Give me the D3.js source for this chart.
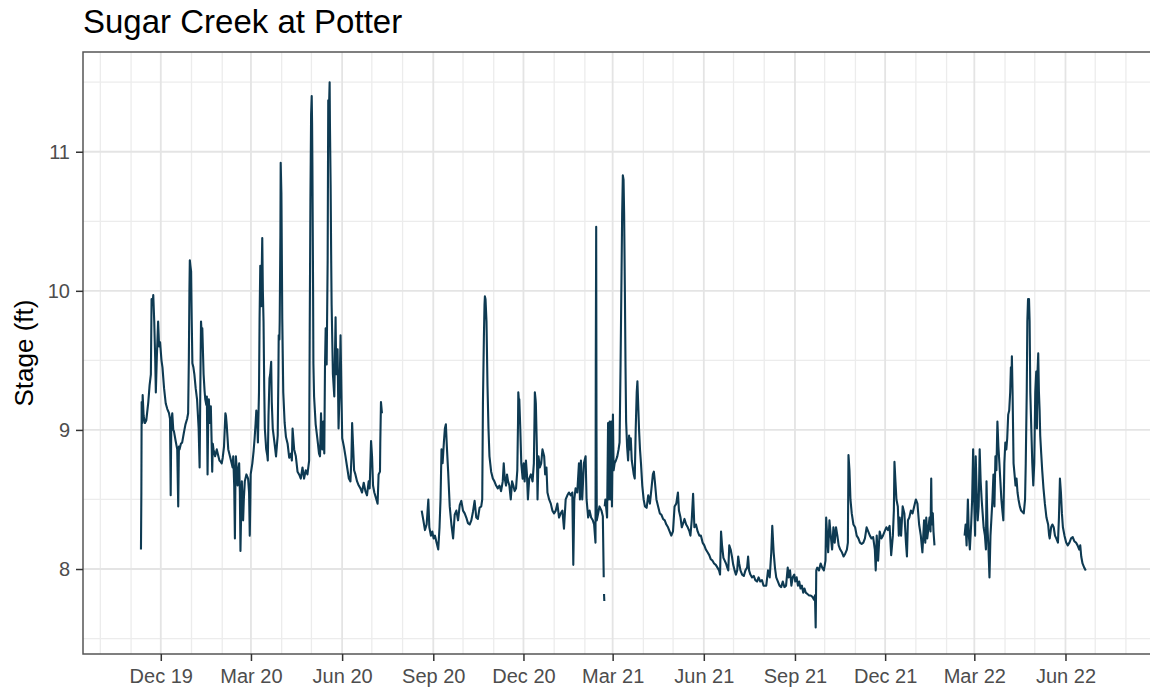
<!DOCTYPE html>
<html>
<head>
<meta charset="utf-8">
<script src="https://cdn.jsdelivr.net/npm/d3@7"></script>
<style>
  html, body { margin: 0; padding: 0; background: #fff; }
  svg { display: block; font-family: "Liberation Sans", Arial, sans-serif; }
</style>
</head>
<body>
<svg id="chart" width="1150" height="693"></svg>
<script>
// ---------------- DATA ----------------
// Time is stored as days since 2019-12-01 (fractional), stage in feet.
const title = "Sugar Creek at Potter";
const yTitle = "Stage (ft)";

const xTickDates  = ["2019-12-01","2020-03-01","2020-06-01","2020-09-01","2020-12-01","2021-03-01",
                     "2021-06-01","2021-09-01","2021-12-01","2022-03-01","2022-06-01"];
const xTickLabels = ["Dec 19","Mar 20","Jun 20","Sep 20","Dec 20","Mar 21",
                     "Jun 21","Sep 21","Dec 21","Mar 22","Jun 22"];
const yTicks = [8, 9, 10, 11];
const yMinor = [7.5, 8.5, 9.5, 10.5, 11.5];

// Segment 1: Nov 2019 - Jul 2020
const seg1Day = [-20.0,-19.6,-19.3,-18.6,-18.3,-17.3,-16.0,-14.6,-12.6,-11.3,-10.0,-9.3,-8.3,-7.6,-6.6,-5.6,-5.0,-4.0,-2.7,-1.7,-0.7,
  0.7,1.7,3.3,5.0,6.6,8.3,9.3,10.0,10.6,11.6,12.6,13.3,15.0,16.6,17.6,18.3,18.9,20.3,21.6,23.3,24.9,26.6,27.6,28.3,28.9,29.3,29.9,30.6,
  31.2,31.9,32.9,33.9,35.2,36.6,38.2,39.2,39.9,40.6,41.2,41.9,43.2,44.2,44.9,45.9,46.5,47.2,47.9,48.5,49.5,50.5,51.2,51.9,52.5,53.2,
  54.8,56.5,57.8,59.2,60.5,61.5,62.5,63.8,64.5,65.2,65.8,66.5,68.1,69.8,71.5,72.5,73.1,74.1,74.8,75.4,75.8,76.8,77.5,78.1,79.1,79.8,
  80.4,81.1,81.8,82.4,83.1,83.8,84.8,86.4,88.1,89.1,89.8,90.4,90.7,92.4,93.7,94.7,95.7,96.4,97.4,98.0,99.1,99.7,100.4,101.1,101.4,
  102.0,102.4,103.0,103.7,104.4,105.0,106.4,107.4,108.0,108.7,109.7,110.4,111.4,112.0,113.0,114.7,116.3,117.3,118.0,118.7,119.0,
  119.7,120.0,120.7,121.0,121.7,122.0,122.6,123.6,125.0,126.3,128.0,129.6,131.3,132.3,
  133.0,134.6,136.3,138.0,139.6,141.3,143.0,144.6,146.3,148.0,149.7,150.3,151.0,151.7,152.3,152.7,153.0,153.7,154.0,154.7,156.3,
  158.0,159.7,160.7,161.7,162.4,163.0,164.0,165.0,165.7,166.4,167.4,168.4,169.0,169.7,170.4,170.7,171.4,172.0,172.4,173.7,175.1,
  175.7,176.4,177.1,177.7,178.4,179.4,180.1,180.4,181.1,181.4,182.4,183.1,184.8,186.4,188.1,189.8,191.4,192.4,193.1,194.1,195.1,
  196.4,198.1,199.8,201.5,203.1,204.8,206.5,208.1,209.8,210.8,211.5,212.2,213.2,214.2,215.5,217.2,218.8,219.8,221.2,221.5,222.2,223.2];
const seg1Stage = [8.14,8.55,9.20,9.05,9.25,9.10,9.05,9.07,9.20,9.32,9.40,9.94,9.90,9.97,9.78,9.50,9.27,9.52,9.78,9.60,9.63,
  9.50,9.45,9.30,9.19,9.15,9.12,9.08,8.53,9.05,9.12,9.00,8.99,8.92,8.86,8.45,8.88,8.86,8.90,8.91,8.98,9.04,9.08,9.12,9.50,10.00,10.22,10.18,10.14,
  9.80,9.48,9.45,9.40,9.30,9.22,9.01,8.73,9.30,9.78,9.70,9.73,9.40,9.28,9.22,9.18,9.24,8.68,9.10,9.22,9.05,9.17,8.95,8.70,8.90,8.86,
  8.81,8.86,8.82,8.78,8.77,8.76,8.80,8.88,9.00,9.12,9.10,9.04,8.86,8.81,8.76,8.73,8.81,8.60,8.22,8.70,8.81,8.70,8.60,8.70,8.76,8.55,
  8.13,8.40,8.63,8.50,8.35,8.50,8.63,8.68,8.65,8.55,8.24,8.50,8.68,8.76,8.85,8.94,9.05,9.14,9.05,8.91,9.27,9.80,10.18,10.00,9.89,
  10.20,10.38,10.00,9.78,9.30,9.01,8.86,8.82,8.78,9.10,9.37,9.40,9.49,9.20,9.01,8.91,8.81,8.90,8.96,9.40,9.68,
  9.65,9.78,10.40,10.92,10.70,10.42,9.80,9.27,9.05,8.95,8.90,8.80,8.83,8.78,
  9.01,8.86,8.81,8.70,8.68,8.65,8.73,8.65,8.71,8.68,8.78,9.71,10.65,11.27,11.40,11.20,10.91,10.00,9.48,9.24,9.04,
  8.94,8.83,8.81,9.12,8.95,8.86,9.06,8.83,9.45,9.73,9.47,10.22,11.37,11.30,11.50,11.20,10.76,10.20,9.90,9.40,9.24,
  9.50,9.81,9.40,9.55,9.58,9.01,9.20,9.27,9.55,9.68,9.22,8.94,8.88,8.81,8.73,8.65,8.63,8.80,9.05,8.88,8.71,
  8.68,8.63,8.60,8.58,8.55,8.62,8.56,8.53,8.63,8.58,8.75,8.92,8.81,8.60,8.55,8.51,8.47,8.68,8.70,8.90,9.20,9.12];

// Segment 2: Aug 2020 - Feb 2021
const seg2Day = [263.3,265.0,266.6,268.3,270.0,271.0,272.6,274.0,275.3,276.7,278.3,280.0,281.3,282.3,283.3,284.4,285.7,286.7,287.7,288.7,290.0,
  291.6,293.3,295.0,296.6,298.3,300.0,301.7,303.3,305.0,306.7,308.3,310.0,311.7,313.4,315.0,316.7,318.4,320.0,321.7,323.4,324.4,
  325.1,326.1,326.7,327.1,327.7,328.7,329.7,330.7,331.7,333.4,335.1,336.7,338.4,340.1,341.8,343.4,345.1,346.1,347.1,348.4,349.4,
  350.5,351.8,353.2,354.5,355.8,357.1,358.5,359.8,360.5,360.8,361.5,361.8,362.8,363.8,365.2,366.2,367.2,368.5,369.5,370.5,371.8,
  373.5,375.2,376.5,377.2,377.5,378.2,378.5,379.5,380.2,381.2,382.5,383.9,385.2,386.9,387.9,389.2,390.2,391.9,393.6,395.2,396.9,
  398.6,400.2,401.9,403.6,405.3,406.9,408.6,410.3,411.9,413.6,415.3,416.3,417.3,418.6,420.3,422.0,423.0,424.0,425.3,427.0,428.7,
  429.7,431.3,432.7,434.3,436.0,437.3,438.7,439.0,439.4,439.7,440.0,441.4,442.7,444.7,446.1,447.0];
const seg2Stage = [8.42,8.35,8.28,8.32,8.50,8.30,8.24,8.27,8.22,8.24,8.19,8.14,8.30,8.50,8.86,8.76,8.91,9.01,9.04,8.88,8.70,
  8.45,8.32,8.22,8.39,8.42,8.35,8.46,8.49,8.42,8.40,8.37,8.33,8.32,8.35,8.41,8.49,8.37,8.36,8.44,8.45,8.50,
  9.19,9.68,9.90,9.96,9.94,9.78,9.32,9.01,8.81,8.70,8.65,8.63,8.60,8.58,8.60,8.56,8.63,8.76,8.65,8.60,8.68,
  8.63,8.60,8.50,8.63,8.60,8.56,8.58,8.71,9.05,9.27,9.20,9.22,9.01,8.76,8.65,8.76,8.63,8.78,8.68,8.50,8.65,
  8.68,8.63,8.76,9.10,9.27,9.22,9.19,8.88,8.50,8.81,8.73,8.76,8.86,8.81,8.68,8.73,8.55,8.50,8.47,8.42,8.40,
  8.42,8.47,8.37,8.40,8.42,8.29,8.50,8.53,8.55,8.53,8.55,8.03,8.50,8.58,8.55,8.76,8.50,8.78,8.50,8.76,8.81,
  8.50,8.37,8.42,8.37,8.35,8.32,8.19,9.50,10.46,9.00,8.35,8.40,8.45,8.42,8.38,7.94];

// Segment 3: short isolated piece, late Feb 2021
const seg3Day = [447.3, 447.6];
const seg3Stage = [7.82, 7.77];

// Segment 4: Feb 2021 - Jan 2022
const seg4Day = [448.0,448.7,450.4,451.4,452.0,453.0,453.7,454.7,455.3,456.3,457.0,458.0,459.3,460.7,462.0,463.0,464.0,465.0,465.6,466.3,
  467.0,467.6,468.3,469.0,469.6,470.6,471.6,472.6,473.6,474.3,475.3,476.3,477.3,478.3,479.3,480.3,481.0,482.0,482.6,483.6,484.6,
  485.9,487.3,488.6,490.3,491.9,493.6,495.2,496.6,497.6,498.6,500.2,501.9,503.6,505.2,506.9,508.6,510.2,511.9,513.5,515.2,516.9,
  518.5,520.2,521.9,522.9,524.5,525.8,526.8,528.5,530.2,531.8,533.5,534.5,535.8,537.2,538.5,540.1,541.8,543.5,545.1,546.8,548.5,
  550.1,551.8,553.5,555.1,556.8,558.4,560.1,561.8,563.4,564.4,565.4,566.4,567.8,569.1,570.4,571.7,572.7,573.7,575.1,576.4,577.7,
  579.1,580.4,581.7,582.7,583.7,585.0,586.7,588.4,590.0,591.7,592.7,593.7,595.0,596.7,598.4,600.0,601.7,603.3,605.0,606.7,608.3,
  610.0,611.0,612.8,614.5,616.1,617.1,618.5,619.8,621.1,622.8,624.4,626.1,627.7,629.4,631.0,632.7,633.7,635.0,636.4,637.7,639.3,
  640.3,641.7,643.0,644.3,645.6,647.0,648.3,649.6,650.9,652.6,654.3,655.9,657.6,659.2,660.2,660.9,661.5,662.5,664.2,665.9,667.5,
  669.2,670.8,671.5,672.5,673.5,674.8,676.1,677.5,678.8,680.1,681.4,682.8,684.1,685.7,687.4,689.1,690.7,692.4,693.4,694.0,695.0,
  696.0,697.3,699.0,700.7,702.3,704.0,705.6,707.3,709.0,710.6,712.3,713.9,715.6,717.2,718.9,720.6,721.5,722.5,723.9,725.5,727.2,
  728.8,730.5,732.2,733.8,735.5,737.1,738.8,739.8,740.4,741.4,742.4,743.8,744.8,745.7,747.1,748.7,750.4,752.0,753.0,754.0,755.4,
  757.0,758.7,760.3,762.0,763.6,765.3,767.0,768.6,770.3,771.5,772.5,773.5,774.8,775.8,776.8,777.5,778.1,779.1,779.8,780.8];
const seg4Stage = [8.45,8.50,8.37,9.05,8.50,9.06,8.50,9.06,8.45,9.11,8.71,8.76,8.78,8.81,8.86,8.91,9.47,10.14,10.55,10.83,
  10.80,10.55,10.04,9.45,9.06,8.88,8.78,8.96,8.86,8.94,8.78,8.73,8.68,8.65,9.01,9.27,9.35,9.14,9.01,8.86,8.76,
  8.60,8.50,8.45,8.44,8.53,8.47,8.58,8.68,8.70,8.63,8.50,8.45,8.40,8.39,8.36,8.35,8.32,8.30,8.27,8.24,8.27,
  8.45,8.47,8.55,8.42,8.37,8.30,8.32,8.36,8.32,8.30,8.27,8.24,8.35,8.54,8.30,8.32,8.27,8.24,8.24,8.19,8.17,
  8.14,8.12,8.10,8.07,8.06,8.04,8.03,8.01,7.99,7.96,8.27,8.17,8.08,8.06,8.04,8.01,7.99,8.17,8.14,8.09,8.03,
  7.99,7.96,7.99,8.09,8.04,7.99,7.96,7.95,7.99,8.01,8.09,7.99,7.96,7.94,7.95,7.92,7.91,7.94,7.91,7.92,7.88,
  7.88,7.88,7.99,7.94,8.12,8.31,8.12,8.01,7.94,7.91,7.88,7.87,7.91,7.87,7.88,8.01,7.94,7.99,7.88,7.94,7.96,
  7.91,7.94,7.88,7.91,7.86,7.88,7.83,7.86,7.83,7.82,7.81,7.81,7.80,7.78,7.81,7.58,7.99,8.01,7.99,8.04,8.01,
  7.99,8.06,8.37,8.24,8.12,8.35,8.24,8.14,8.30,8.19,8.30,8.24,8.17,8.14,8.12,8.09,8.11,8.14,8.19,8.82,8.71,
  8.50,8.40,8.32,8.30,8.24,8.22,8.19,8.18,8.19,8.22,8.30,8.27,8.24,8.22,8.23,8.14,7.99,8.24,8.06,8.27,8.22,
  8.24,8.27,8.30,8.28,8.31,8.10,8.24,8.42,8.77,8.63,8.50,8.45,8.24,8.37,8.24,8.45,8.40,8.19,8.09,8.35,8.37,
  8.42,8.40,8.45,8.50,8.47,8.32,8.24,8.12,8.35,8.19,8.37,8.22,8.30,8.37,8.27,8.65,8.32,8.40,8.27,8.17];

// Segment 5: Feb 2022 - Jun 2022
const seg5Day = [811.2,812.2,813.2,814.5,815.5,816.5,817.8,818.8,819.8,820.8,821.8,822.4,823.4,824.4,825.4,826.4,827.4,828.4,829.4,830.4,
  831.7,832.7,833.3,834.3,835.3,836.3,837.3,838.3,839.3,840.3,841.3,842.3,843.3,844.3,845.3,846.3,847.3,848.3,849.3,850.3,851.3,
  852.3,853.3,854.2,855.2,856.2,857.2,857.9,858.6,858.9,859.6,860.6,861.6,862.6,863.6,864.6,865.6,866.9,868.2,869.6,870.9,872.2,
  872.9,873.9,874.5,875.2,876.2,876.8,877.5,878.5,879.5,880.5,881.5,882.5,883.5,884.2,884.8,885.5,886.2,886.9,887.5,888.5,889.5,
  890.8,892.2,893.8,895.5,896.5,897.1,898.5,899.8,901.1,902.4,903.7,905.4,906.4,907.4,908.4,909.4,910.4,912.0,913.7,915.3,917.0,
  918.6,920.3,921.9,923.6,925.2,926.9,927.9,928.9,930.2,931.9,933.5];
const seg5Stage = [8.24,8.32,8.17,8.50,8.24,8.14,8.32,8.50,8.86,8.50,8.24,8.81,8.55,8.35,8.45,8.86,8.63,8.50,8.40,8.30,
  8.24,8.14,8.63,8.30,8.14,7.94,8.24,8.37,8.50,8.68,8.45,8.81,8.71,9.06,8.88,8.76,8.63,8.50,8.42,8.35,8.76,
  8.91,8.86,8.94,9.11,9.14,9.27,9.45,9.40,9.53,9.27,8.76,8.68,8.60,8.65,8.55,8.50,8.45,8.42,8.41,8.40,8.50,
  8.76,9.27,9.78,9.94,9.94,9.78,9.27,9.01,8.76,8.60,8.76,9.27,9.42,9.01,9.42,9.55,9.27,9.14,8.96,8.83,8.71,
  8.58,8.47,8.37,8.32,8.24,8.22,8.30,8.32,8.30,8.24,8.22,8.19,8.37,8.65,8.55,8.40,8.30,8.24,8.19,8.17,8.19,
  8.22,8.23,8.20,8.19,8.17,8.14,8.17,8.09,8.04,8.01,7.99];

// ---------------- CHART ----------------
const BASE = Date.UTC(2019, 11, 1);
const toDate = d => new Date(BASE + d * 864e5);
const parse = d3.utcParse("%Y-%m-%d");

const W = 1150, H = 693;
const panel = { left: 83, right: 1151, top: 52, bottom: 654 };

const x = d3.scaleUtc()
  .domain([toDate(-78.5), toDate(999.3)])
  .range([panel.left, panel.right]);
const y = d3.scaleLinear()
  .domain([7.389, 11.717])
  .range([panel.bottom, panel.top]);

const svg = d3.select("#chart");
svg.append("rect").attr("width", W).attr("height", H).attr("fill", "#fff");

svg.append("defs").append("clipPath").attr("id", "clip")
  .append("rect").attr("x", panel.left).attr("y", panel.top)
  .attr("width", panel.right - panel.left).attr("height", panel.bottom - panel.top);

const grid = svg.append("g").attr("clip-path", "url(#clip)");

// minor vertical grid (monthly)
const months = d3.utcMonth.range(x.domain()[0], x.domain()[1]);
const majorDates = xTickDates.map(parse);
const majorSet = new Set(majorDates.map(d => +d));
grid.selectAll("line.vminor").data(months.filter(d => !majorSet.has(+d))).join("line")
  .attr("x1", d => x(d)).attr("x2", d => x(d))
  .attr("y1", panel.top).attr("y2", panel.bottom)
  .attr("stroke", "#ececec").attr("stroke-width", 1.3);
grid.selectAll("line.hminor").data(yMinor).join("line")
  .attr("x1", panel.left).attr("x2", panel.right)
  .attr("y1", d => y(d)).attr("y2", d => y(d))
  .attr("stroke", "#ececec").attr("stroke-width", 1.3);
// major grid
grid.selectAll("line.vmajor").data(majorDates).join("line")
  .attr("x1", d => x(d)).attr("x2", d => x(d))
  .attr("y1", panel.top).attr("y2", panel.bottom)
  .attr("stroke", "#e4e4e4").attr("stroke-width", 1.8);
grid.selectAll("line.hmajor").data(yTicks).join("line")
  .attr("x1", panel.left).attr("x2", panel.right)
  .attr("y1", d => y(d)).attr("y2", d => y(d))
  .attr("stroke", "#e4e4e4").attr("stroke-width", 1.8);

// data line
const segments = [
  [seg1Day, seg1Stage], [seg2Day, seg2Stage], [seg3Day, seg3Stage],
  [seg4Day, seg4Stage], [seg5Day, seg5Stage]
].map(([ds, vs]) => ds.map((d, i) => ({ t: toDate(d), v: vs[i] })));

const line = d3.line().x(d => x(d.t)).y(d => y(d.v));
svg.append("g").attr("clip-path", "url(#clip)")
  .selectAll("path").data(segments).join("path")
  .attr("d", line)
  .attr("fill", "none")
  .attr("stroke", "#0e3a52")
  .attr("stroke-width", 2.1)
  .attr("stroke-linejoin", "round");

// panel border
svg.append("rect")
  .attr("x", panel.left).attr("y", panel.top)
  .attr("width", panel.right - panel.left).attr("height", panel.bottom - panel.top)
  .attr("fill", "none").attr("stroke", "#555").attr("stroke-width", 1.5);

// axes
const xAxis = d3.axisBottom(x)
  .tickValues(majorDates)
  .tickFormat((d, i) => xTickLabels[i])
  .tickSize(7).tickPadding(8);
const gx = svg.append("g").attr("transform", `translate(0,${panel.bottom})`).call(xAxis);
gx.select(".domain").remove();
gx.selectAll(".tick line").attr("stroke", "#333").attr("stroke-width", 1.5);
gx.selectAll(".tick text").attr("fill", "#4d4d4d").attr("font-size", 20)
  .attr("font-family", "Liberation Sans, Arial, sans-serif");

const yAxis = d3.axisLeft(y).tickValues(yTicks).tickFormat(d3.format("d"))
  .tickSize(7).tickPadding(6);
const gy = svg.append("g").attr("transform", `translate(${panel.left},0)`).call(yAxis);
gy.select(".domain").remove();
gy.selectAll(".tick line").attr("stroke", "#333").attr("stroke-width", 1.5);
gy.selectAll(".tick text").attr("fill", "#4d4d4d").attr("font-size", 20)
  .attr("font-family", "Liberation Sans, Arial, sans-serif");

// title
svg.append("text").attr("x", 83).attr("y", 33)
  .attr("font-size", 33).attr("fill", "#000").text(title);

// y axis title
svg.append("text")
  .attr("transform", `translate(33,${(panel.top + panel.bottom) / 2}) rotate(-90)`)
  .attr("text-anchor", "middle")
  .attr("font-size", 26).attr("fill", "#000").text(yTitle);
</script>
</body>
</html>
